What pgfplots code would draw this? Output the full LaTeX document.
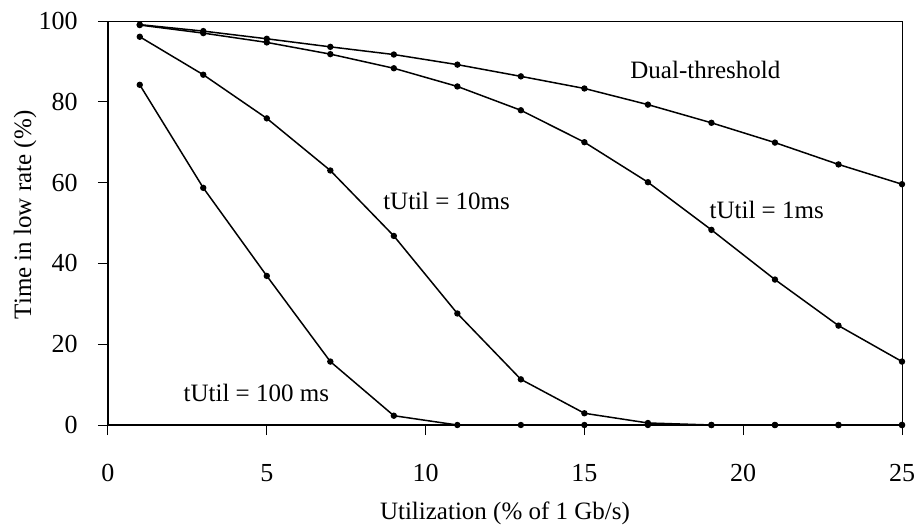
\documentclass[border=0pt]{standalone}
\usepackage{fontspec}
\setmainfont{Liberation Serif}
\usepackage{pgfplots}
\pgfplotsset{compat=1.18}

\begin{document}
\begin{tikzpicture}
\useasboundingbox (-54pt,-50pt) rectangle (404.5pt,212.5pt);
\begin{axis}[
    scale only axis,
    width=397pt, height=202pt,
    at={(0,0)}, anchor=south west,
    xmin=0, xmax=25, ymin=0, ymax=100,
    xtick={0,5,...,25}, ytick={0,20,...,100},
    tick pos=left, tick align=outside,
    major tick length=5pt,
    every tick/.style={black, line width=0.5pt},
    axis line style={line width=0.5pt},
    font=\fontsize{12.5}{15}\selectfont,
    /pgf/number format/assume math mode=true,
    tick label style={font=\fontsize{13}{15}\selectfont},
    xticklabel style={anchor=center, yshift=-19pt},
    yticklabel style={anchor=east, inner sep=0pt, xshift=-10pt},
    xlabel={Utilization (\% of 1 Gb/s)},
    ylabel={Time in low rate (\%)},
    xlabel style={at={(axis description cs:0.5,0)}, anchor=center, yshift=-44pt},
    ylabel style={at={(axis description cs:-0.1045,0.52)}, anchor=center},
    clip=false,
]
% dual-threshold
\addplot[black, line width=0.75pt, mark=*, mark size=1.2pt] coordinates {
    (1,99.1)(3,97.5)(5,95.6)(7,93.6)(9,91.7)(11,89.2)(13,86.3)
    (15,83.3)(17,79.3)(19,74.8)(21,69.9)(23,64.5)(25,59.6)};
% tUtil = 1ms
\addplot[black, line width=0.75pt, mark=*, mark size=1.2pt] coordinates {
    (1,99.0)(3,97.0)(5,94.7)(7,91.8)(9,88.3)(11,83.8)(13,77.9)
    (15,70.0)(17,60.1)(19,48.3)(21,36.0)(23,24.6)(25,15.7)};
% tUtil = 10ms
\addplot[black, line width=0.75pt, mark=*, mark size=1.2pt] coordinates {
    (1,96.1)(3,86.7)(5,75.9)(7,63.0)(9,46.8)(11,27.6)(13,11.3)
    (15,2.9)(17,0.5)(19,0)(21,0)(23,0)(25,0)};
% tUtil = 100ms
\addplot[black, line width=0.75pt, mark=*, mark size=1.2pt] coordinates {
    (1,84.2)(3,58.7)(5,36.9)(7,15.7)(9,2.3)(11,0)(13,0)
    (15,0)(17,0)(19,0)(21,0)(23,0)(25,0)};

\draw[line width=1pt] (rel axis cs:0,1) -- (rel axis cs:0,0) -- (rel axis cs:1,0);

\node at (axis cs:18.81,87.9) {Dual-threshold};
\node at (axis cs:20.74,53.3) {tUtil = 1ms};
\node at (axis cs:10.66,55.5) {tUtil = 10ms};
\node at (axis cs:4.67,7.9) {tUtil = 100 ms};
\end{axis}
\end{tikzpicture}
\end{document}
